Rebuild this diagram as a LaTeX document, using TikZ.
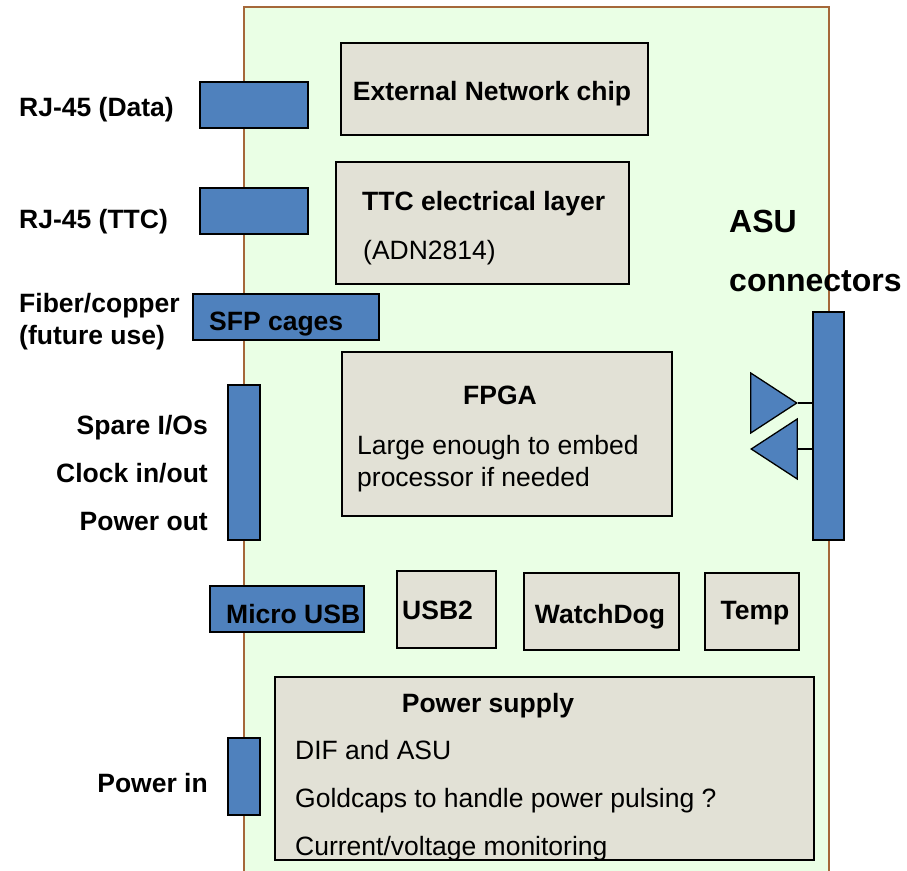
\documentclass[tikz,border=0pt]{standalone}
\usepackage{fontspec}
\setmainfont{Liberation Sans}
\usetikzlibrary{shapes.geometric}
\definecolor{boardgreen}{HTML}{EAFFE5}
\definecolor{boardedge}{HTML}{A5683A}
\definecolor{chipgray}{HTML}{E2E1D6}
\definecolor{portblue}{HTML}{4F81BD}
\begin{document}
\begin{tikzpicture}[
    x=1pt, y=-1pt,
    board/.style={draw=boardedge, fill=boardgreen, line width=1.6pt},
    chip/.style={draw=black, fill=chipgray, line width=1.3pt, minimum width=#1, inner sep=0pt},
    port/.style={draw=black, fill=portblue, line width=1.5pt, minimum width=#1, inner sep=0pt},
    buffer/.style={draw=black, fill=portblue, line width=1.3pt, shape=isosceles triangle, isosceles triangle stretches, inner sep=0pt, minimum width=60pt, minimum height=46pt},
    head/.style={font=\fontsize{26.5}{26.5}\selectfont\bfseries, inner sep=0pt, yshift=-2pt},
    body/.style={font=\fontsize{26.5}{26.5}\selectfont, inner sep=0pt, yshift=-2pt},
    link/.style={draw=black, line width=1.3pt}
]
\useasboundingbox (0,0) rectangle (907,870);
\clip (0,0) rectangle (907,870);
\draw[board] (244,7) rectangle (829,880);

% blocks on the board
\node[chip=307pt, minimum height=92pt] (network) at (494.5,89) {};
\node[chip=293pt, minimum height=122pt] (ttc) at (482.5,223) {};
\node[chip=330pt, minimum height=164pt] (fpga) at (507,434) {};
\node[chip=99pt, minimum height=77pt] (usbtwo) at (446.5,609.5) {};
\node[chip=155pt, minimum height=77pt] (watchdog) at (601.5,611.5) {};
\node[chip=94pt, minimum height=77pt] (temp) at (752,611.5) {};
\node[chip=539pt, minimum height=183pt] (power) at (544.5,768.5) {};

% connectors on the edge
\node[port=108pt, minimum height=46pt] (rjdata) at (254,105) {};
\node[port=108pt, minimum height=46pt] (rjttc) at (254,211) {};
\node[port=186pt, minimum height=46pt] (sfp) at (286,317) {};
\node[port=32pt, minimum height=155pt] (spare) at (244,462.5) {};
\node[port=154pt, minimum height=46pt] (microusb) at (287,609) {};
\node[port=32pt, minimum height=77pt] (powerin) at (244,776.5) {};
\node[port=31pt, minimum height=228pt] (asubar) at (828.5,426) {};

% buffers to the ASU bar
\node[buffer] (bufout) at (767,403) {};
\node[buffer, shape border rotate=180] (bufin) at (781,449) {};
\draw[link] (bufout.apex) -- (bufout.apex -| asubar.west);
\draw[link] (bufin.east |- bufin.apex) -- (bufin.apex -| asubar.west);

% chip texts
\node[head] (networktxt) at (492,92) {External Network chip};
\node[head, anchor=west] (ttctxt) at (362,202) {TTC electrical layer};
\node[body, anchor=west] (adntxt) at (363,251) {(ADN2814)};
\node[head] (fpgatxt) at (500,393) {FPGA};
\node[body, anchor=west] (largetxt) at (357,446) {Large enough to embed};
\node[body, anchor=west] (proctxt) at (357,478) {processor if needed};
\node[head, anchor=west] (usbtwotxt) at (402,608) {USB2};
\node[head] (watchdogtxt) at (600,615) {WatchDog};
\node[head] (temptxt) at (755,611) {Temp};
\node[head] (powertxt) at (488,704) {Power supply};
\node[body, anchor=west] (diftxt) at (295,748) {DIF and ASU};
\node[body, anchor=west] (goldtxt) at (295,799) {Goldcaps to handle power pulsing ?};
\node[body, anchor=west] (currenttxt) at (295,847) {Current/voltage monitoring};
\node[head, anchor=west] (sfptxt) at (209,322) {SFP cages};
\node[head, anchor=west] (microtxt) at (226,612) {Micro USB};

% outside labels
\node[head, anchor=west] (rjdatatxt) at (19,108) {RJ-45 (Data)};
\node[head, anchor=west] (rjttctxt) at (19,220) {RJ-45 (TTC)};
\node[head, anchor=west] (fibertxt) at (19,304) {Fiber/copper};
\node[head, anchor=west] (futuretxt) at (19,336) {(future use)};
\node[head, anchor=east] (sparetxt) at (208,426) {Spare I/Os};
\node[head, anchor=east] (clocktxt) at (208,471) {Clock in/out};
\node[head, anchor=east] (powerouttxt) at (208,520) {Power out};
\node[head, anchor=east] (powerintxt) at (208,781) {Power in};
\node[head, anchor=west] (asutxt) at (729,219) {\fontsize{32}{32}\selectfont ASU};
\node[head, anchor=west] (connectorstxt) at (729,279) {\fontsize{32}{32}\selectfont connectors};
\end{tikzpicture}
\end{document}
